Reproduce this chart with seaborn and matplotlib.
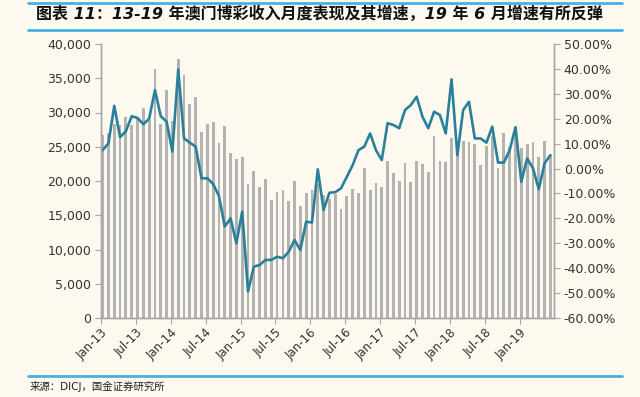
import pandas as pd
import matplotlib
matplotlib.use('Agg')
import matplotlib.pyplot as plt
from matplotlib.lines import Line2D
import seaborn as sns

# 澳门博彩月度收入（百万澳门元）与同比增速，2013-01 至 2019-06
revenue_2013 = [26720, 26970, 28300, 28180, 29390, 28180, 29010, 30620, 28910, 36310, 28300, 33290]
revenue_2014 = [28760, 37860, 35480, 31200, 32310, 27110, 28320, 28660, 25500, 27990, 24130, 23210]
revenue_2015 = [23550, 19520, 21460, 19170, 20250, 17230, 18440, 18640, 17040, 20050, 16350, 18300]
revenue_2016 = [18640, 19500, 17960, 17330, 18060, 15870, 17770, 18830, 18300, 21850, 18690, 19710]
revenue_2017 = [19170, 22870, 21150, 20050, 22700, 19900, 22850, 22500, 21320, 26570, 22870, 22730]
revenue_2018 = [26230, 24300, 25840, 25700, 25350, 22340, 25110, 26600, 21850, 27000, 24900, 26500]
revenue_2019 = [24770, 25360, 25650, 23550, 25840, 23800]

growth_2013 = [7.4, 10.1, 25.2, 12.6, 15.0, 21.0, 20.3, 17.8, 20.0, 31.5, 21.0, 18.8]
growth_2014 = [6.8, 39.8, 12.1, 10.4, 8.8, -3.9, -3.9, -6.2, -11.0, -23.3, -20.0, -30.0]
growth_2015 = [-17.3, -49.4, -39.4, -38.7, -36.7, -36.7, -35.4, -36.0, -33.4, -28.7, -32.7, -21.3]
growth_2016 = [-21.7, -0.3, -16.6, -9.7, -9.5, -7.9, -3.3, 1.4, 7.4, 8.8, 14.1, 7.4]
growth_2017 = [3.4, 18.2, 17.5, 16.2, 23.5, 25.5, 28.8, 20.8, 16.2, 22.8, 21.5, 14.1]
growth_2018 = [35.8, 5.4, 23.5, 26.8, 12.1, 12.1, 10.4, 16.8, 2.4, 2.4, 7.4, 16.6]
growth_2019 = [-5.3, 4.1, 0.1, -8.3, 2.1, 5.4]

x_labels = ['Jan-13', 'Jul-13', 'Jan-14', 'Jul-14', 'Jan-15', 'Jul-15', 'Jan-16',
            'Jul-16', 'Jan-17', 'Jul-17', 'Jan-18', 'Jul-18', 'Jan-19']
left_ticks = [0, 5000, 10000, 15000, 20000, 25000, 30000, 35000, 40000]
right_ticks = [-60, -50, -40, -30, -20, -10, 0, 10, 20, 30, 40, 50]

title = '图表 11：13-19 年澳门博彩收入月度表现及其增速，19 年 6 月增速有所反弹'
source = '来源：DICJ，国金证券研究所'

revenue = revenue_2013 + revenue_2014 + revenue_2015 + revenue_2016 + revenue_2017 + revenue_2018 + revenue_2019
growth = growth_2013 + growth_2014 + growth_2015 + growth_2016 + growth_2017 + growth_2018 + growth_2019

df = pd.DataFrame({
    'month': pd.date_range('2013-01-01', periods=len(revenue), freq='MS').strftime('%b-%y'),
    'revenue': revenue,
    'growth': growth,
})
df['pos'] = range(len(df))

bg = '#FDF9EF'
bar_color = '#B3B3B3'
line_color = '#2A7F9B'
rule_color = '#45B2E6'
axis_color = '#A6A6A6'

sns.set_style('white')
plt.rcParams['font.family'] = ['DejaVu Sans', 'Noto Sans CJK SC']

fig = plt.figure(figsize=(6.4, 3.97), dpi=100, facecolor=bg)
ax = fig.add_axes([101 / 640, 1 - 318 / 397, 453 / 640, 274 / 397])
ax.set_facecolor(bg)

# 柱状图：月度收入
sns.barplot(data=df, x='pos', y='revenue', color=bar_color, width=0.48,
            saturation=1, linewidth=0, ax=ax, native_scale=True)

# 折线：同比增速（右轴）
ax2 = ax.twinx()
sns.lineplot(data=df, x='pos', y='growth', color=line_color, linewidth=1.9, ax=ax2)

ax.set_xlim(-0.28, len(df) - 0.38)
ax.set_ylim(0, 40000)
ax2.set_ylim(-60, 50)

tick_pos = [6 * k - 0.28 for k in range(len(x_labels))]
ax.set_xticks(tick_pos)
ax.set_xticklabels(x_labels, rotation=45, ha='right', rotation_mode='anchor',
                   fontsize=8.5, color='#333333')
ax.set_yticks(left_ticks)
ax.set_yticklabels([f'{v:,}' for v in left_ticks], fontsize=9, color='#333333')
ax2.set_yticks(right_ticks)
ax2.set_yticklabels([f'{v:.2f}%' for v in right_ticks], fontsize=9, color='#333333')

ax.set_xlabel('')
ax.set_ylabel('')
ax2.set_xlabel('')
ax2.set_ylabel('')

for a in (ax, ax2):
    a.spines['top'].set_visible(False)
    for side in ('left', 'right', 'bottom'):
        a.spines[side].set_color(axis_color)
        a.spines[side].set_linewidth(1.0)
ax.tick_params(axis='x', direction='out', length=4, color=axis_color, pad=2, bottom=True)
ax.tick_params(axis='y', direction='out', length=4, color=axis_color, pad=3, left=True)
ax2.tick_params(axis='y', direction='out', length=4, color=axis_color, pad=3, right=True)

# 标题、来源及蓝色分隔线
fig.text(36 / 640, 1 - 14 / 397, title, fontsize=11.5, fontweight='bold', style='italic',
         family=['DejaVu Sans', 'Noto Sans CJK SC'], va='center', ha='left', color='#111111')
fig.text(30 / 640, 1 - 387 / 397, source, fontsize=7.5,
         family=['DejaVu Sans', 'Noto Sans CJK SC'], va='center', ha='left', color='#222222')
for y in (3, 30, 376):
    fig.add_artist(Line2D([28 / 640, 622 / 640], [1 - y / 397, 1 - y / 397],
                          color=rule_color, linewidth=2.0, transform=fig.transFigure))

fig.savefig('out.png', dpi=100, facecolor=bg)
